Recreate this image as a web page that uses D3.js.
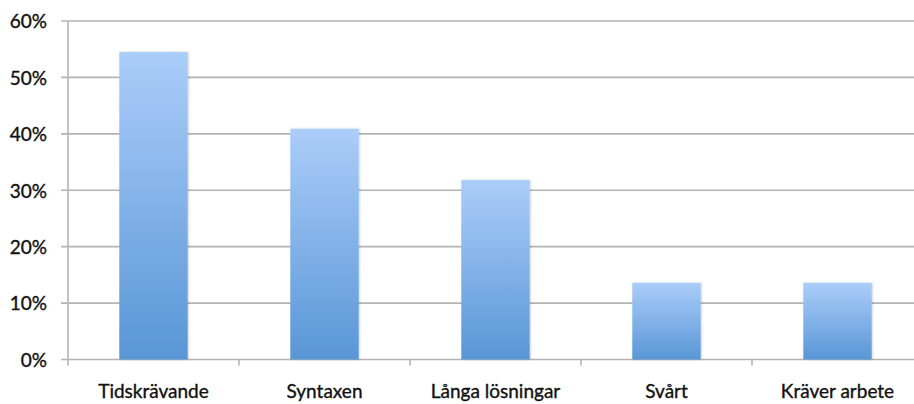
<!DOCTYPE html>
<html>
<head>
<meta charset="utf-8">
<script src="https://cdn.jsdelivr.net/npm/d3@7"></script>
<style>
  html, body { margin: 0; padding: 0; background: #fff; }
  svg { display: block; }
  .tick text { font-family: Lato, "Open Sans", sans-serif; fill: #111; stroke: #111; stroke-width: 0.35px; }
</style>
</head>
<body>
<svg id="chart" width="914" height="404"></svg>
<script>
// Share of answers per category (n = 22)
const categories = ["Tidskrävande", "Syntaxen", "Långa lösningar", "Svårt", "Kräver arbete"];
const values = [0.545, 0.409, 0.318, 0.136, 0.136];
const yTicks = [0, 0.1, 0.2, 0.3, 0.4, 0.5, 0.6];

const svg = d3.select("#chart");
const plotLeft = 68, plotRight = 923, plotTop = 21, plotBottom = 359.5;

const x = d3.scaleBand().domain(categories).range([plotLeft, plotRight]).paddingInner(0.6).paddingOuter(0.3);
const xBand = d3.scaleBand().domain(categories).range([plotLeft, plotRight]);
const y = d3.scaleLinear().domain([0, 0.6]).range([plotBottom, plotTop]);

// Bar gradient
const defs = svg.append("defs");
const grad = defs.append("linearGradient").attr("id", "barGrad")
  .attr("x1", 0).attr("y1", 0).attr("x2", 0).attr("y2", 1);
grad.append("stop").attr("offset", "0%").attr("stop-color", "#abcdf9");
grad.append("stop").attr("offset", "100%").attr("stop-color", "#5996d6");
const shadow = defs.append("filter").attr("id", "shadow")
  .attr("x", "-10%").attr("y", "-10%").attr("width", "130%").attr("height", "120%");
shadow.append("feDropShadow").attr("dx", 1).attr("dy", 0).attr("stdDeviation", 1)
  .attr("flood-color", "#000").attr("flood-opacity", 0.18);

// Horizontal gridlines with short tick stubs on the left
svg.append("g").selectAll("line").data(yTicks).join("line")
  .attr("x1", 61).attr("x2", 914)
  .attr("y1", d => y(d)).attr("y2", d => y(d))
  .attr("stroke", "#b4b4b4").attr("stroke-width", 1.6);

// Y axis
const yAxis = svg.append("g").attr("transform", `translate(${plotLeft},0)`)
  .call(d3.axisLeft(y).tickValues(yTicks).tickFormat(d3.format(".0%")).tickSize(0).tickPadding(21));
yAxis.select(".domain").attr("stroke", "#b4b4b4").attr("stroke-width", 1.6)
  .attr("d", `M0,${plotTop}V${plotBottom + 6}`);
yAxis.selectAll(".tick text").attr("font-size", 19).attr("dy", "0.36em");

// X axis with category boundary ticks
const xAxis = svg.append("g").attr("transform", `translate(0,${plotBottom})`)
  .call(d3.axisBottom(xBand).tickSize(0).tickPadding(25));
xAxis.select(".domain").remove();
xAxis.selectAll(".tick text").attr("font-size", 19);
svg.append("g").selectAll("line").data(categories.slice(1)).join("line")
  .attr("x1", d => xBand(d)).attr("x2", d => xBand(d))
  .attr("y1", plotBottom).attr("y2", plotBottom + 6)
  .attr("stroke", "#b4b4b4").attr("stroke-width", 1.6);

// Bars
svg.append("g").selectAll("rect").data(categories).join("rect")
  .attr("x", d => x(d))
  .attr("width", x.bandwidth())
  .attr("y", (d, i) => y(values[i]))
  .attr("height", (d, i) => y(0) - y(values[i]))
  .attr("fill", "url(#barGrad)")
  .attr("filter", "url(#shadow)");
</script>
</body>
</html>
